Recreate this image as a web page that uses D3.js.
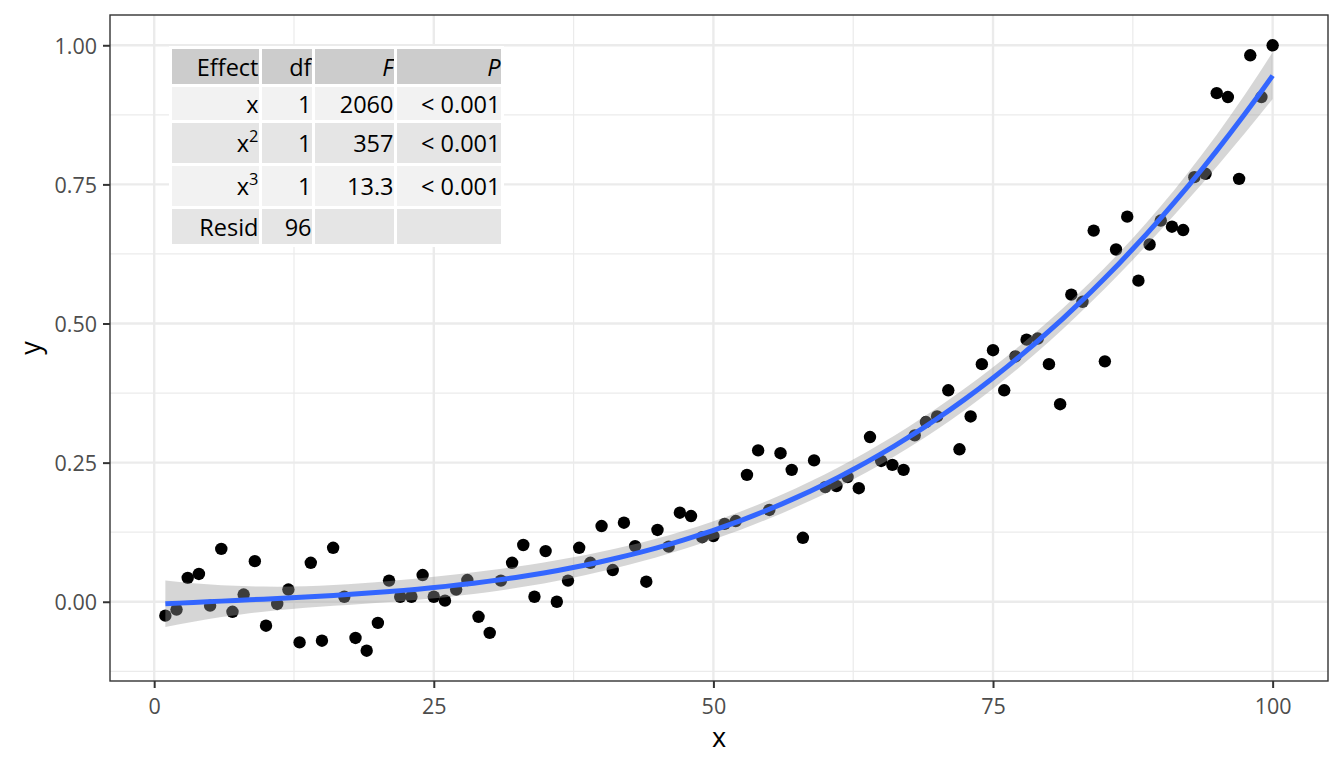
<!DOCTYPE html>
<html>
<head>
<meta charset="utf-8">
<script src="https://cdn.jsdelivr.net/npm/d3@7"></script>
<style>
  html, body { margin: 0; padding: 0; background: #fff; }
  svg text { font-family: "Open Sans", "Noto Sans", sans-serif; }
</style>
</head>
<body>
<svg id="chart" width="1344" height="768"></svg>
<script>
// ---- data ----
const xValues = d3.range(1, 101);
const yValues = [
  -0.025, -0.014, 0.043, 0.050, -0.007, 0.095, -0.018, 0.013, 0.073, -0.043,
  -0.004, 0.022, -0.073, 0.070, -0.070, 0.097, 0.009, -0.065, -0.088, -0.038,
  0.038, 0.009, 0.009, 0.048, 0.009, 0.002, 0.022, 0.039, -0.027, -0.056,
  0.038, 0.070, 0.102, 0.009, 0.091, 0.000, 0.038, 0.097, 0.070, 0.136,
  0.057, 0.142, 0.100, 0.036, 0.129, 0.099, 0.160, 0.154, 0.116, 0.118,
  0.140, 0.145, 0.228, 0.272, 0.165, 0.267, 0.237, 0.115, 0.254, 0.206,
  0.208, 0.224, 0.204, 0.296, 0.253, 0.246, 0.237, 0.299, 0.323, 0.333,
  0.380, 0.274, 0.333, 0.427, 0.452, 0.380, 0.441, 0.471, 0.473, 0.427,
  0.355, 0.552, 0.539, 0.667, 0.432, 0.633, 0.692, 0.577, 0.642, 0.685,
  0.674, 0.668, 0.763, 0.769, 0.914, 0.907, 0.760, 0.982, 0.907, 1.000
];
const xTicks = [0, 25, 50, 75, 100];
const yTicks = [0, 0.25, 0.5, 0.75, 1.0];
const xMinor = [12.5, 37.5, 62.5, 87.5];
const yMinor = [-0.125, 0.125, 0.375, 0.625, 0.875];

// ANOVA table
const tableHeader = ["Effect", "df", "F", "P"];
const tableEffect = ["x", "x2", "x3", "Resid"];
const tableDf = ["1", "1", "1", "96"];
const tableF = ["2060", "357", "13.3", ""];
const tableP = ["< 0.001", "< 0.001", "< 0.001", ""];

// ---- layout ----
const panel = { left: 110, right: 1328, top: 15, bottom: 681 };
const svg = d3.select("#chart");

const xExt = d3.extent(xValues), yExt = d3.extent(yValues);
const xPad = (xExt[1] - xExt[0]) * 0.05, yPad = (yExt[1] - yExt[0]) * 0.05;
const x = d3.scaleLinear().domain([xExt[0] - xPad, xExt[1] + xPad]).range([panel.left, panel.right]);
const y = d3.scaleLinear().domain([yExt[0] - yPad, yExt[1] + yPad]).range([panel.bottom, panel.top]);

// ---- cubic least-squares fit (like geom_smooth lm poly 3) ----
const n = xValues.length;
const xm = d3.mean(xValues), xs = d3.deviation(xValues);
const basis = v => { const t = (v - xm) / xs; return [1, t, t * t, t * t * t]; };
const X = xValues.map(basis);
const p = 4;
const XtX = Array.from({length: p}, () => new Array(p).fill(0));
const Xty = new Array(p).fill(0);
for (let i = 0; i < n; i++) {
  for (let a = 0; a < p; a++) {
    Xty[a] += X[i][a] * yValues[i];
    for (let b = 0; b < p; b++) XtX[a][b] += X[i][a] * X[i][b];
  }
}
function invert(M) {
  const k = M.length, A = M.map((r, i) => r.concat(Array.from({length: k}, (_, j) => i === j ? 1 : 0)));
  for (let c = 0; c < k; c++) {
    let piv = c;
    for (let r = c + 1; r < k; r++) if (Math.abs(A[r][c]) > Math.abs(A[piv][c])) piv = r;
    [A[c], A[piv]] = [A[piv], A[c]];
    const d = A[c][c];
    for (let j = 0; j < 2 * k; j++) A[c][j] /= d;
    for (let r = 0; r < k; r++) if (r !== c) {
      const f = A[r][c];
      for (let j = 0; j < 2 * k; j++) A[r][j] -= f * A[c][j];
    }
  }
  return A.map(r => r.slice(k));
}
const XtXi = invert(XtX);
const beta = XtXi.map(r => d3.sum(r.map((v, j) => v * Xty[j])));
const predict = v => d3.sum(basis(v).map((b, j) => b * beta[j]));
let rss = 0;
for (let i = 0; i < n; i++) rss += (yValues[i] - predict(xValues[i])) ** 2;
const sigma2 = rss / (n - p);
const tq = 1.98498; // qt(0.975, 96)
const seAt = v => { const b = basis(v); let s = 0; for (let a = 0; a < p; a++) for (let c = 0; c < p; c++) s += b[a] * XtXi[a][c] * b[c]; return Math.sqrt(s * sigma2); };
const grid = d3.range(80).map(i => xExt[0] + (xExt[1] - xExt[0]) * i / 79);
const fit = grid.map(v => { const f = predict(v), se = seAt(v); return { x: v, y: f, lo: f - tq * se, hi: f + tq * se }; });

// ---- panel background & grid ----
svg.append("rect").attr("x", panel.left).attr("y", panel.top)
  .attr("width", panel.right - panel.left).attr("height", panel.bottom - panel.top).attr("fill", "#fff");
const gGrid = svg.append("g");
gGrid.selectAll(".xminor").data(xMinor).join("line")
  .attr("x1", d => x(d)).attr("x2", d => x(d)).attr("y1", panel.top).attr("y2", panel.bottom)
  .attr("stroke", "#ebebeb").attr("stroke-width", 1.2);
gGrid.selectAll(".yminor").data(yMinor).join("line")
  .attr("y1", d => y(d)).attr("y2", d => y(d)).attr("x1", panel.left).attr("x2", panel.right)
  .attr("stroke", "#ebebeb").attr("stroke-width", 1.2);
gGrid.selectAll(".xmajor").data(xTicks).join("line")
  .attr("x1", d => x(d)).attr("x2", d => x(d)).attr("y1", panel.top).attr("y2", panel.bottom)
  .attr("stroke", "#ebebeb").attr("stroke-width", 2.4);
gGrid.selectAll(".ymajor").data(yTicks).join("line")
  .attr("y1", d => y(d)).attr("y2", d => y(d)).attr("x1", panel.left).attr("x2", panel.right)
  .attr("stroke", "#ebebeb").attr("stroke-width", 2.4);

// ---- points ----
svg.append("g").selectAll("circle").data(xValues.map((v, i) => [v, yValues[i]])).join("circle")
  .attr("cx", d => x(d[0])).attr("cy", d => y(d[1])).attr("r", 6.2).attr("fill", "#000");

// ---- ribbon & line ----
svg.append("path").datum(fit)
  .attr("d", d3.area().x(d => x(d.x)).y0(d => y(d.lo)).y1(d => y(d.hi)))
  .attr("fill", "#999999").attr("fill-opacity", 0.4);
svg.append("path").datum(fit)
  .attr("d", d3.line().x(d => x(d.x)).y(d => y(d.y)))
  .attr("fill", "none").attr("stroke", "#3366FF").attr("stroke-width", 5);

// ---- table ----
const colEdges = [170.5, 260.5, 313.5, 395.5, 502.5];
const rowEdges = [47.5, 85.5, 121.5, 164.5, 207.5, 245.5];
const tableFont = 23.5;
const gT = svg.append("g");
const rows = [tableHeader].concat(tableEffect.map((e, i) => [e, tableDf[i], tableF[i], tableP[i]]));
const fills = ["#cccccc", "#f2f2f2", "#e5e5e5", "#f2f2f2", "#e5e5e5"];
rows.forEach((r, ri) => {
  r.forEach((txt, ci) => {
    const x0 = colEdges[ci], x1 = colEdges[ci + 1], y0 = rowEdges[ri], y1 = rowEdges[ri + 1];
    gT.append("rect").attr("x", x0).attr("y", y0).attr("width", x1 - x0).attr("height", y1 - y0)
      .attr("fill", fills[ri]).attr("stroke", "#fff").attr("stroke-width", 3);
    if (!txt) return;
    const t = gT.append("text").attr("x", x1 - 2).attr("y", (y0 + y1) / 2 + 9)
      .attr("text-anchor", "end").attr("font-size", tableFont).attr("fill", "#000");
    if (ri === 0 && (txt === "F" || txt === "P")) t.attr("font-style", "italic");
    if (ri > 0 && ci === 0 && (txt === "x2" || txt === "x3")) {
      t.append("tspan").text("x");
      t.append("tspan").attr("dy", -10).attr("font-size", tableFont * 0.7).text(txt.slice(1));
    } else {
      t.text(txt);
    }
  });
});

// ---- panel border ----
svg.append("rect").attr("x", panel.left).attr("y", panel.top)
  .attr("width", panel.right - panel.left).attr("height", panel.bottom - panel.top)
  .attr("fill", "none").attr("stroke", "#333333").attr("stroke-width", 1.4);

// ---- axes ----
const tickFont = 21.5;
const xAxis = svg.append("g").attr("transform", `translate(0,${panel.bottom})`)
  .call(d3.axisBottom(x).tickValues(xTicks).tickSize(7).tickPadding(6).tickFormat(d3.format("d")));
const yAxis = svg.append("g").attr("transform", `translate(${panel.left},0)`)
  .call(d3.axisLeft(y).tickValues(yTicks).tickSize(7).tickPadding(6).tickFormat(d3.format(".2f")));
[xAxis, yAxis].forEach(g => {
  g.select(".domain").remove();
  g.selectAll(".tick line").attr("stroke", "#333333").attr("stroke-width", 2);
  g.selectAll(".tick text").attr("fill", "#4d4d4d").attr("font-size", tickFont)
    .attr("font-family", "Open Sans, Noto Sans, sans-serif");
});
xAxis.selectAll(".tick text").attr("dy", "0.95em");
yAxis.selectAll(".tick text").attr("dy", "0.36em");

// axis titles
svg.append("text").attr("x", (panel.left + panel.right) / 2).attr("y", 747)
  .attr("text-anchor", "middle").attr("font-size", 27).attr("fill", "#000").text("x");
svg.append("text").attr("transform", `translate(40,${(panel.top + panel.bottom) / 2}) rotate(-90)`)
  .attr("text-anchor", "middle").attr("font-size", 27).attr("fill", "#000").text("y");
</script>
</body>
</html>
